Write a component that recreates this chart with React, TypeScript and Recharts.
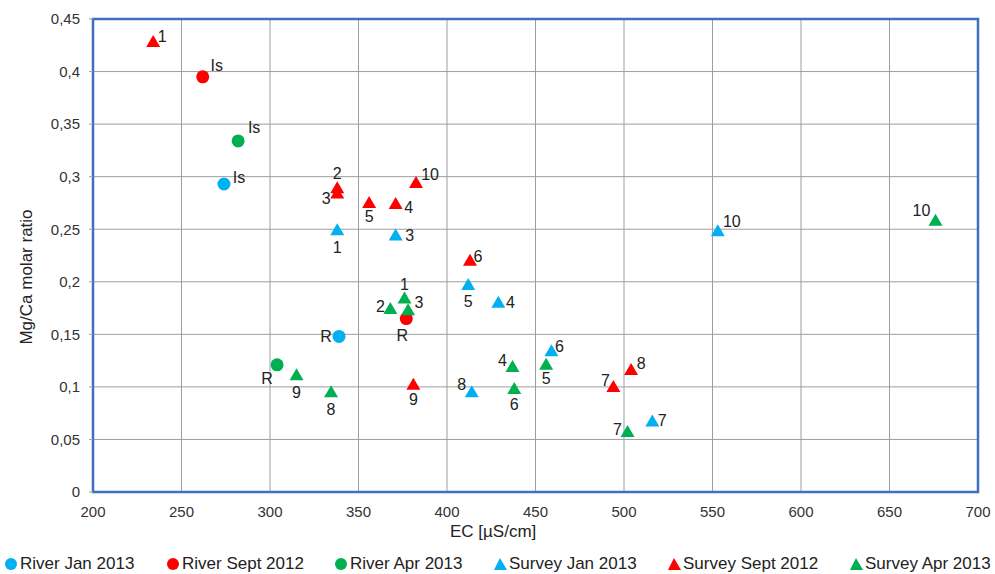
import { ScatterChart, Scatter, XAxis, YAxis, CartesianGrid, ReferenceArea } from "recharts";

const BLUE = "#00b0f0";
const RED = "#ff0000";
const GREEN = "#00b050";

// river samples (circles)
const riverJanLabels = ["Is", "R"];
const riverJanEC = [274, 339];
const riverJanRatio = [0.293, 0.148];

const riverSeptLabels = ["Is", "R"];
const riverSeptEC = [262, 377];
const riverSeptRatio = [0.395, 0.165];

const riverAprLabels = ["Is", "R"];
const riverAprEC = [282, 304];
const riverAprRatio = [0.334, 0.121];

// survey samples (triangles)
const surveyJanLabels = ["1", "3", "5", "4", "6", "8", "7", "10"];
const surveyJanEC = [338, 371, 412, 429, 459, 414, 516, 553];
const surveyJanRatio = [0.249, 0.244, 0.197, 0.18, 0.134, 0.095, 0.067, 0.248];

const surveySeptLabels = ["1", "2", "3", "5", "4", "10", "6", "9", "7", "8"];
const surveySeptEC = [234, 338, 338, 356, 371, 382.5, 413, 381, 494, 504];
const surveySeptRatio = [0.428, 0.289, 0.284, 0.275, 0.274, 0.294, 0.22, 0.102, 0.1, 0.116];

const surveyAprLabels = ["1", "2", "3", "9", "8", "4", "6", "5", "7", "10"];
const surveyAprEC = [376, 368, 378, 315, 334.5, 437, 438, 456, 502, 676];
const surveyAprRatio = [0.184, 0.174, 0.173, 0.111, 0.095, 0.119, 0.098, 0.121, 0.057, 0.258];

const xTicks = [200, 250, 300, 350, 400, 450, 500, 550, 600, 650, 700];
const yTicks = [0, 0.05, 0.1, 0.15, 0.2, 0.25, 0.3, 0.35, 0.4, 0.45];

// label offsets from marker centre, same order as the arrays above
const riverJanOff = [[15, -7], [-13, 0]];
const riverSeptOff = [[14, -11], [-4, 17]];
const riverAprOff = [[16, -13], [-10, 14]];
const surveyJanOff = [[0, 17], [14, 0], [0, 17], [12, 0], [8, -5], [-10, -8], [10, -1], [14, -10]];
const surveySeptOff = [[9, -6], [0, -15], [-11, 5], [0, 14], [13, 4], [14, -8], [8, -4], [0, 15], [-8, -6], [10, -7]];
const surveyAprOff = [[0, -14], [-10, -3], [11, -8], [0, 17], [0, 17], [-10, -6], [0, 16], [0, 14], [-10, -3], [-14, -10]];

const rows = (ec: number[], ratio: number[], labels: string[]) =>
  ec.map((x, i) => ({ x, y: ratio[i], name: labels[i], i }));

const fmtY = (v: number) => String(Math.round(v * 100) / 100).replace(".", ",");

function makeShape(kind: "circle" | "triangle", color: string, offs: number[][]) {
  return (p: any) => {
    const { cx, cy, payload } = p;
    const [dx, dy] = offs[payload.i] || [0, 0];
    return (
      <g>
        {kind === "circle" ? (
          <circle cx={cx} cy={cy} r={6.5} fill={color} />
        ) : (
          <polygon points={`${cx},${cy - 7} ${cx - 7},${cy + 5} ${cx + 7},${cy + 5}`} fill={color} />
        )}
        <text
          x={cx + dx}
          y={cy + dy}
          textAnchor="middle"
          dominantBaseline="central"
          fontSize={16}
          fill="#222"
        >
          {payload.name}
        </text>
      </g>
    );
  };
}

const legendItems = [
  { name: "River Jan 2013", color: BLUE, kind: "circle", left: 4 },
  { name: "River Sept 2012", color: RED, kind: "circle", left: 166 },
  { name: "River Apr 2013", color: GREEN, kind: "circle", left: 334 },
  { name: "Survey Jan 2013", color: BLUE, kind: "triangle", left: 493 },
  { name: "Survey Sept 2012", color: RED, kind: "triangle", left: 667 },
  { name: "Survey Apr 2013", color: GREEN, kind: "triangle", left: 849 },
];

export default function App() {
  const font = "'Liberation Sans', Arial, sans-serif";
  return (
    <div style={{ position: "absolute", left: 0, top: 0, width: 995, height: 574, overflow: "hidden", background: "#fff", fontFamily: font }}>
      <ScatterChart width={995} height={574} margin={{ top: 19, right: 17, bottom: 52, left: 43 }} style={{ fontFamily: font }}>
        <CartesianGrid stroke="#9e9e9e" strokeWidth={1} />
        <XAxis
          type="number"
          dataKey="x"
          domain={[200, 700]}
          ticks={xTicks}
          interval={0}
          tick={{ fontSize: 15, fill: "#333" }}
          tickLine={false}
          axisLine={false}
          tickMargin={8}
          height={30}
        />
        <YAxis
          type="number"
          dataKey="y"
          domain={[0, 0.45]}
          ticks={yTicks}
          interval={0}
          tickFormatter={fmtY}
          tick={{ fontSize: 15, fill: "#333" }}
          tickLine={{ stroke: "#9e9e9e" }}
          tickSize={4}
          tickMargin={9}
          axisLine={false}
          width={50}
        />
        <ReferenceArea x1={200} x2={700} y1={0} y2={0.45} fill="none" stroke="#3f6fc0" strokeWidth={2.5} ifOverflow="visible" />
        <Scatter data={rows(riverJanEC, riverJanRatio, riverJanLabels)} shape={makeShape("circle", BLUE, riverJanOff)} isAnimationActive={false} />
        <Scatter data={rows(riverSeptEC, riverSeptRatio, riverSeptLabels)} shape={makeShape("circle", RED, riverSeptOff)} isAnimationActive={false} />
        <Scatter data={rows(riverAprEC, riverAprRatio, riverAprLabels)} shape={makeShape("circle", GREEN, riverAprOff)} isAnimationActive={false} />
        <Scatter data={rows(surveyJanEC, surveyJanRatio, surveyJanLabels)} shape={makeShape("triangle", BLUE, surveyJanOff)} isAnimationActive={false} />
        <Scatter data={rows(surveySeptEC, surveySeptRatio, surveySeptLabels)} shape={makeShape("triangle", RED, surveySeptOff)} isAnimationActive={false} />
        <Scatter data={rows(surveyAprEC, surveyAprRatio, surveyAprLabels)} shape={makeShape("triangle", GREEN, surveyAprOff)} isAnimationActive={false} />
      </ScatterChart>
      <div style={{ position: "absolute", left: -6, top: 265, width: 66, height: 24, display: "flex", alignItems: "center", justifyContent: "center" }}>
        <div style={{ transform: "rotate(-90deg)", whiteSpace: "nowrap", fontSize: 17, color: "#222" }}>Mg/Ca molar ratio</div>
      </div>
      <div style={{ position: "absolute", left: 450, top: 522, fontSize: 17, color: "#222", whiteSpace: "nowrap" }}>EC [µS/cm]</div>
      {legendItems.map((it) => (
        <div key={it.name} style={{ position: "absolute", left: it.left, top: 554, display: "flex", alignItems: "center", whiteSpace: "nowrap", fontSize: 17, color: "#222" }}>
          <svg width={16} height={16}>
            {it.kind === "circle" ? (
              <circle cx={7} cy={8} r={6} fill={it.color} />
            ) : (
              <polygon points="7,2 1,14 14,14" fill={it.color} />
            )}
          </svg>
          <span>{it.name}</span>
        </div>
      ))}
    </div>
  );
}
